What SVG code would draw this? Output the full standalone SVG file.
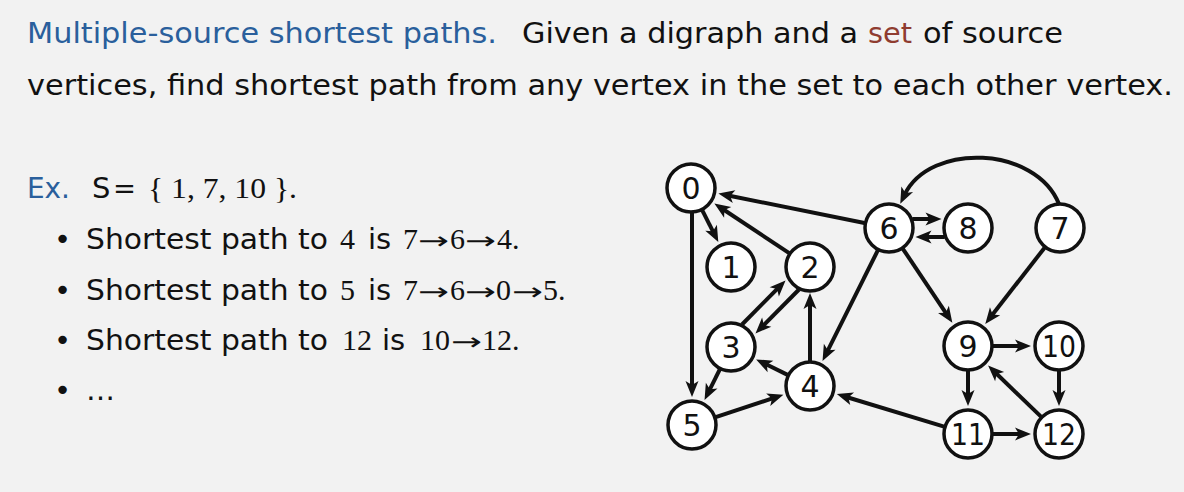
<svg xmlns="http://www.w3.org/2000/svg" width="1184" height="492" viewBox="0 0 1184 492">
<style>
.sans{font-family:"DejaVu Sans","Liberation Sans",sans-serif;font-size:29px;fill:#111}
.serif{font-family:"Liberation Serif","DejaVu Serif",serif;font-size:30px;fill:#111}
.arw{font-family:"DejaVu Sans","Liberation Sans",sans-serif;font-size:24px;fill:#111}
.blue{fill:#2a5f9c}
.red{fill:#8f3c30}
.node circle{fill:#fff;stroke:#111;stroke-width:3.5}
.node text{font-family:"DejaVu Sans","Liberation Sans",sans-serif;font-size:30px;fill:#111;text-anchor:middle}
.edges line,.edges path{stroke:#111;stroke-width:4;fill:none;marker-end:url(#arr)}
</style>
<defs>
<marker id="arr" markerUnits="userSpaceOnUse" viewBox="-8 -8 20 16" refX="0" refY="0" markerWidth="20" markerHeight="16" orient="auto">
<path d="M10,0 L-6,-6.5 L-2,0 L-6,6.5 Z" fill="#111"/>
</marker>
</defs>
<rect width="1184" height="492" fill="#f2f2f2"/>

<g id="text">
<text class="sans blue" x="27" y="43" textLength="470" lengthAdjust="spacingAndGlyphs">Multiple-source shortest paths.</text>
<text class="sans" x="522" y="43" textLength="336" lengthAdjust="spacingAndGlyphs">Given a digraph and a</text>
<text class="sans red" x="868" y="43" textLength="44" lengthAdjust="spacingAndGlyphs">set</text>
<text class="sans" x="923" y="43" textLength="140" lengthAdjust="spacingAndGlyphs">of source</text>
<text class="sans" x="27" y="95" textLength="1146" lengthAdjust="spacingAndGlyphs">vertices, find shortest path from any vertex in the set to each other vertex.</text>

<text class="sans blue" x="27" y="198" textLength="43" lengthAdjust="spacingAndGlyphs">Ex.</text>
<text class="sans" x="92" y="198">S</text>
<text class="sans" x="113" y="198" textLength="23" lengthAdjust="spacingAndGlyphs">=</text>
<text class="serif" x="148" y="198" textLength="149" lengthAdjust="spacingAndGlyphs">{ 1, 7, 10 }.</text>

<text class="sans" x="54" y="249">•</text>
<text class="sans" x="86" y="249" textLength="242" lengthAdjust="spacingAndGlyphs">Shortest path to</text>
<text class="serif" x="340" y="249">4</text>
<text class="sans" x="368" y="249">is</text>
<text class="serif" x="403" y="249">7</text>
<text class="arw" x="418" y="249" textLength="31" lengthAdjust="spacingAndGlyphs">→</text>
<text class="serif" x="450" y="249">6</text>
<text class="arw" x="465" y="249" textLength="31" lengthAdjust="spacingAndGlyphs">→</text>
<text class="serif" x="497" y="249">4.</text>

<text class="sans" x="54" y="300">•</text>
<text class="sans" x="86" y="300" textLength="242" lengthAdjust="spacingAndGlyphs">Shortest path to</text>
<text class="serif" x="340" y="300">5</text>
<text class="sans" x="368" y="300">is</text>
<text class="serif" x="403" y="300">7</text>
<text class="arw" x="418" y="300" textLength="31" lengthAdjust="spacingAndGlyphs">→</text>
<text class="serif" x="450" y="300">6</text>
<text class="arw" x="465" y="300" textLength="31" lengthAdjust="spacingAndGlyphs">→</text>
<text class="serif" x="496" y="300">0</text>
<text class="arw" x="512" y="300" textLength="31" lengthAdjust="spacingAndGlyphs">→</text>
<text class="serif" x="543" y="300">5.</text>

<text class="sans" x="54" y="350">•</text>
<text class="sans" x="86" y="350" textLength="242" lengthAdjust="spacingAndGlyphs">Shortest path to</text>
<text class="serif" x="342" y="350" textLength="30" lengthAdjust="spacingAndGlyphs">12</text>
<text class="sans" x="382" y="350">is</text>
<text class="serif" x="420" y="350" textLength="30" lengthAdjust="spacingAndGlyphs">10</text>
<text class="arw" x="451" y="350" textLength="31" lengthAdjust="spacingAndGlyphs">→</text>
<text class="serif" x="482" y="350">12.</text>

<text class="sans" x="54" y="400">•</text>
<text class="sans" x="86" y="400">…</text>
</g>

<g id="connectors" class="edges">
<line x1="864.5" y1="223" x2="728.2" y2="195.5"/>
<line x1="702.3" y1="210.3" x2="713.8" y2="233.1"/>
<line x1="789.2" y1="253.2" x2="722.7" y2="209"/>
<line x1="692" y1="213" x2="692" y2="387"/>
<line x1="742" y1="324.5" x2="778.5" y2="287.6"/>
<line x1="799" y1="289.5" x2="762.5" y2="326.4"/>
<line x1="810" y1="361" x2="810" y2="303"/>
<line x1="877.8" y1="250.4" x2="827" y2="352.1"/>
<line x1="787.6" y1="374.9" x2="765.1" y2="363.8"/>
<line x1="719.8" y1="369.4" x2="709" y2="391.1"/>
<line x1="715.7" y1="417.2" x2="773.9" y2="397.9"/>
<line x1="944.1" y1="426.7" x2="846.4" y2="397"/>
<line x1="902.9" y1="248.8" x2="946.8" y2="314.4"/>
<line x1="1044.6" y1="247.7" x2="991.4" y2="316"/>
<path d="M1059,204 C1036,146 930,142 904.6,194.7"/>
<line x1="912.3" y1="219" x2="931.5" y2="219"/>
<line x1="944.7" y1="237" x2="925.5" y2="237"/>
<line x1="993" y1="346" x2="1021" y2="346"/>
<line x1="1059" y1="371" x2="1059" y2="396"/>
<line x1="968" y1="371" x2="968" y2="396"/>
<line x1="993" y1="434" x2="1021" y2="434"/>
<line x1="1041" y1="416.6" x2="995.3" y2="372.5"/>
</g>

<g id="node0" class="node"><circle cx="691" cy="188" r="24"/><text x="691" y="199">0</text></g>
<g id="node1" class="node"><circle cx="731" cy="267" r="24"/><text x="731" y="278">1</text></g>
<g id="node2" class="node"><circle cx="810" cy="267" r="24"/><text x="810" y="278">2</text></g>
<g id="node3" class="node"><circle cx="731" cy="347" r="24"/><text x="731" y="358">3</text></g>
<g id="node4" class="node"><circle cx="810" cy="386" r="24"/><text x="810" y="397">4</text></g>
<g id="node5" class="node"><circle cx="692" cy="425" r="24"/><text x="692" y="436">5</text></g>
<g id="node6" class="node"><circle cx="889" cy="228" r="24"/><text x="889" y="239">6</text></g>
<g id="node7" class="node"><circle cx="1060" cy="228" r="24"/><text x="1060" y="239">7</text></g>
<g id="node8" class="node"><circle cx="968" cy="228" r="24"/><text x="968" y="239">8</text></g>
<g id="node9" class="node"><circle cx="968" cy="346" r="24"/><text x="968" y="357">9</text></g>
<g id="node10" class="node"><circle cx="1059" cy="346" r="24"/><text x="1059" y="357" textLength="34" lengthAdjust="spacingAndGlyphs">10</text></g>
<g id="node11" class="node"><circle cx="968" cy="434" r="24"/><text x="968" y="445" textLength="34" lengthAdjust="spacingAndGlyphs">11</text></g>
<g id="node12" class="node"><circle cx="1059" cy="434" r="24"/><text x="1059" y="445" textLength="34" lengthAdjust="spacingAndGlyphs">12</text></g>
</svg>
